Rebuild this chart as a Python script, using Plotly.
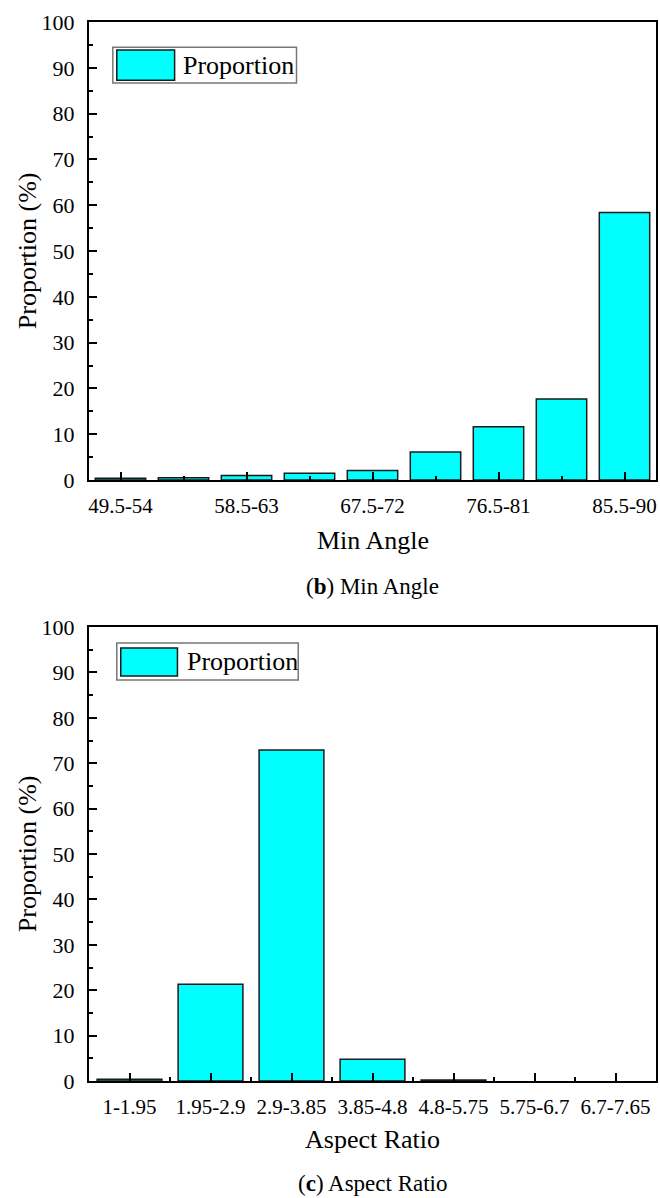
import plotly.graph_objects as go
from plotly.subplots import make_subplots

# Min angle histogram (percent of elements per bin)
angle_bins = ["49.5-54", "54-58.5", "58.5-63", "63-67.5", "67.5-72",
              "72-76.5", "76.5-81", "81-85.5", "85.5-90"]
angle_share = [0.4, 0.5, 1.0, 1.5, 2.1, 6.1, 11.6, 17.7, 58.4]
angle_labeled = ["49.5-54", "58.5-63", "67.5-72", "76.5-81", "85.5-90"]

# Aspect ratio histogram
ratio_bins = ["1-1.95", "1.95-2.9", "2.9-3.85", "3.85-4.8",
              "4.8-5.75", "5.75-6.7", "6.7-7.65"]
ratio_share = [0.4, 21.3, 72.9, 4.8, 0.2, 0.0, 0.0]

y_ticks = list(range(0, 101, 10))

FONT = "Liberation Serif, Times New Roman, serif"
CYAN = "#00FFFF"
EDGE = "#1a1a1a"


def edge_widths(values):
    # empty bins get no outline
    return [1.5 if v > 0 else 0 for v in values]


fig = make_subplots(rows=2, cols=1)

fig.add_trace(go.Bar(
    x=list(range(len(angle_bins))), y=angle_share, width=0.8,
    marker=dict(color=CYAN, line=dict(color=EDGE, width=edge_widths(angle_share))),
    name="Proportion", showlegend=False,
), row=1, col=1)

fig.add_trace(go.Bar(
    x=list(range(len(ratio_bins))), y=ratio_share, width=0.8,
    marker=dict(color=CYAN, line=dict(color=EDGE, width=edge_widths(ratio_share))),
    name="Proportion", showlegend=False,
), row=2, col=1)

axis_common = dict(
    showline=True, linecolor="black", linewidth=2, mirror=True,
    ticks="inside", tickcolor="black", tickwidth=1.5,
    showgrid=False, zeroline=False,
)

# x axes: numeric positions with category text
angle_pos = [angle_bins.index(b) for b in angle_labeled]
fig.update_xaxes(
    **axis_common, row=1, col=1, domain=[0, 1],
    range=[-0.5, len(angle_bins) - 0.5],
    tickmode="array", tickvals=angle_pos, ticktext=angle_labeled, ticklen=8,
    tickfont=dict(family=FONT, size=21, color="black"),
    minor=dict(ticks="inside", ticklen=4, tickwidth=1.5, tickcolor="black",
               tickmode="linear", tick0=0, dtick=1, showgrid=False),
    ticklabelstandoff=6,
)
fig.update_xaxes(
    **axis_common, row=2, col=1, domain=[0, 1],
    range=[-0.5, len(ratio_bins) - 0.5],
    tickmode="array", tickvals=list(range(len(ratio_bins))), ticktext=ratio_bins,
    ticklen=8,
    tickfont=dict(family=FONT, size=21, color="black"),
    minor=dict(ticks="inside", ticklen=4, tickwidth=1.5, tickcolor="black",
               tickmode="linear", tick0=0.5, dtick=1, showgrid=False),
    ticklabelstandoff=6,
)

ypx_top, ypx_bot = 22, 1081
ph = ypx_bot - ypx_top


def py(px):
    return (ypx_bot - px) / ph


for r, dom in ((1, [py(480), 1.0]), (2, [0.0, py(627)])):
    fig.update_yaxes(
        **axis_common, row=r, col=1, domain=dom,
        range=[0, 100], tickmode="array", tickvals=y_ticks, ticklen=8,
        tickfont=dict(family=FONT, size=22, color="black"),
        minor=dict(ticks="inside", ticklen=4, tickwidth=1.5, tickcolor="black",
                   tickmode="linear", tick0=5, dtick=10, showgrid=False),
        ticklabelstandoff=8,
    )

annotations = []
shapes = []


def text(x, y, s, size, angle=0, xanchor="center", xref="paper", yref="paper"):
    annotations.append(dict(
        x=x, y=y, xref=xref, yref=yref, text=s, showarrow=False,
        textangle=angle, xanchor=xanchor, yanchor="middle",
        font=dict(family=FONT, size=size, color="black"),
    ))


pw = 569.0
x0px = 89.0


def px_x(px):
    return (px - x0px) / pw


# axis titles and captions
text(px_x(27), py(251), "Proportion (%)", 26, angle=-90)
text(px_x(27), py(854), "Proportion (%)", 26, angle=-90)
text(0.5, py(540), "Min Angle", 26)
text(0.5, py(1139), "Aspect Ratio", 26)
text(0.5, py(586), "(<b>b</b>) Min Angle", 23)
text(0.5, py(1183), "(<b>c</b>) Aspect Ratio", 23)

# legend boxes drawn per panel
legends = [
    ("x domain", "y domain", (0.042, 0.366, 0.867, 0.945),
     (0.049, 0.151, 0.873, 0.939), (0.162, 0.906)),
    ("x2 domain", "y2 domain", (0.049, 0.369, 0.883, 0.965),
     (0.056, 0.156, 0.892, 0.954), (0.169, 0.923)),
]
for xr, yr, box, sw, tp in legends:
    shapes.append(dict(type="rect", xref=xr, yref=yr,
                       x0=box[0], x1=box[1], y0=box[2], y1=box[3],
                       line=dict(color="#777777", width=1.5),
                       fillcolor="white", layer="above"))
    shapes.append(dict(type="rect", xref=xr, yref=yr,
                       x0=sw[0], x1=sw[1], y0=sw[2], y1=sw[3],
                       line=dict(color=EDGE, width=1.5),
                       fillcolor=CYAN, layer="above"))
    text(tp[0], tp[1], "Proportion", 26, xanchor="left", xref=xr, yref=yr)

fig.update_layout(
    width=660, height=1198,
    margin=dict(l=89, r=2, t=22, b=117),
    paper_bgcolor="white", plot_bgcolor="white",
    annotations=annotations, shapes=shapes,
    bargap=0.2,
    font=dict(family=FONT, color="black"),
)

fig.write_html("out.html")
